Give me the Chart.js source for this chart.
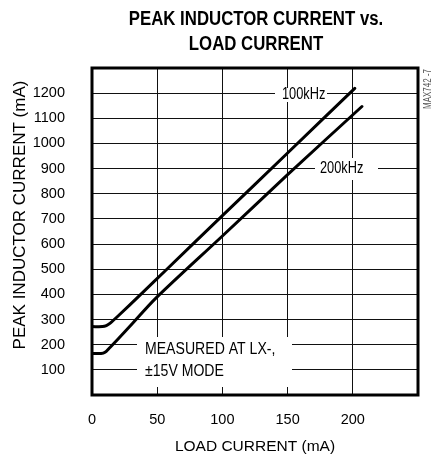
<!DOCTYPE html>
<html>
<head>
<meta charset="utf-8">
<script src="https://cdn.jsdelivr.net/npm/chart.js@4.4.1/dist/chart.umd.min.js"></script>
<style>
  html, body { margin: 0; padding: 0; background: #fff; }
  #wrap { width: 434px; height: 457px; position: relative; }
</style>
</head>
<body>
<div id="wrap"><canvas id="chart" width="434" height="457"></canvas></div>
<script>
// ---------------- Data ----------------
const TITLE_LINES = ["PEAK INDUCTOR CURRENT vs.", "LOAD CURRENT"];
const X_TITLE = "LOAD CURRENT (mA)";
const Y_TITLE = "PEAK INDUCTOR CURRENT (mA)";

const X_RANGE = [0, 250];
const Y_RANGE = [0, 1300];

// load current (mA) / peak inductor current (mA)
const load100k = [0, 8, 11, 14, 20, 37.6, 56.6, 100, 150, 201.5];
const peak100k = [272, 272, 276, 286, 314, 401, 496, 713, 962, 1219];

const load200k = [0, 7, 10, 13, 20, 31, 49, 100, 150, 207];
const peak200k = [165, 165, 170, 185, 223, 284, 385, 632, 876, 1147];

const NOTES = [
  { lines: ["100kHz"], x: 282, y: 95, box: [275, 88, 327, 102] },
  { lines: ["200kHz"], x: 320, y: 169, box: [315, 158, 378, 180] },
  { lines: ["MEASURED AT LX-,", "\u00b115V MODE"], x: 145, y: 350, box: [137, 337, 292, 387] }
];

const FONT = '"Liberation Sans", Arial, sans-serif';

// ---------------- Helpers ----------------
function toPoints(xs, ys) {
  return xs.map((x, i) => ({ x: x, y: ys[i] }));
}

// squeeze text horizontally, the reference uses a narrow face
function narrowText(ctx, text, x, y, squeeze) {
  ctx.save();
  ctx.translate(x, y);
  ctx.scale(squeeze, 1);
  ctx.fillText(text, 0, 0);
  ctx.restore();
}

const decorPlugin = {
  id: "decor",
  beforeDatasetsDraw(chart) {
    const ctx = chart.ctx;
    ctx.save();
    NOTES.forEach(n => {
      const [x0, y0, x1, y1] = n.box;
      ctx.fillStyle = "#fff";
      ctx.fillRect(x0, y0, x1 - x0, y1 - y0);
      ctx.fillStyle = "#000";
      ctx.font = "16px " + FONT;
      ctx.textBaseline = "middle";
      ctx.textAlign = "left";
      n.lines.forEach((t, i) => narrowText(ctx, t, n.x, n.y + i * 22, n.lines.length > 1 ? 0.88 : 0.8));
    });
    ctx.restore();
  },
  afterDatasetsDraw(chart) {
    const ctx = chart.ctx;
    const a = chart.chartArea;
    ctx.save();
    ctx.strokeStyle = "#000";
    ctx.lineWidth = 3;
    ctx.strokeRect(a.left, a.top, a.right - a.left, a.bottom - a.top);

    ctx.fillStyle = "#000";
    ctx.font = "bold 20px " + FONT;
    ctx.textAlign = "center";
    ctx.textBaseline = "alphabetic";
    narrowText(ctx, TITLE_LINES[0], 256, 25, 0.84);
    narrowText(ctx, TITLE_LINES[1], 256, 50, 0.84);

    // y axis title, sits a bit above the plot centre in the original
    ctx.save();
    ctx.translate(20, 215);
    ctx.rotate(-Math.PI / 2);
    ctx.font = "17px " + FONT;
    ctx.textBaseline = "middle";
    ctx.fillText(Y_TITLE, 0, 0);
    ctx.restore();

    ctx.translate(428, 89);
    ctx.rotate(-Math.PI / 2);
    ctx.fillStyle = "#555";
    ctx.font = "10px " + FONT;
    ctx.textBaseline = "middle";
    narrowText(ctx, "MAX742 -7", 0, 0, 0.8);
    ctx.restore();
  }
};

// ---------------- Chart ----------------
new Chart(document.getElementById("chart"), {
  type: "line",
  data: {
    datasets: [
      { label: "100kHz", data: toPoints(load100k, peak100k) },
      { label: "200kHz", data: toPoints(load200k, peak200k) }
    ]
  },
  options: {
    responsive: false,
    animation: false,
    layout: { padding: { top: 68, right: 14, left: 0, bottom: 0 } },
    elements: {
      line: { borderColor: "#000", borderWidth: 3, tension: 0.3, fill: false, borderCapStyle: "round" },
      point: { radius: 0 }
    },
    plugins: {
      legend: { display: false },
      tooltip: { enabled: false }
    },
    scales: {
      x: {
        type: "linear",
        min: X_RANGE[0],
        max: X_RANGE[1],
        afterFit: s => { s.height = 62; },
        border: { display: false },
        grid: { color: "#111", lineWidth: 1, drawTicks: false },
        ticks: {
          stepSize: 50,
          padding: 16,
          color: "#000",
          font: { family: FONT, size: 14.5 },
          callback: v => (v === 250 ? "" : v)
        },
        title: { display: true, text: X_TITLE, color: "#000", font: { family: FONT, size: 15.5 }, padding: { top: 0, bottom: 1 } }
      },
      y: {
        type: "linear",
        min: Y_RANGE[0],
        max: Y_RANGE[1],
        afterFit: s => { s.width = 92; },
        border: { display: false },
        grid: { color: "#111", lineWidth: 1, drawTicks: false },
        ticks: {
          stepSize: 100,
          padding: 27,
          color: "#000",
          font: { family: FONT, size: 14.5 },
          callback: v => (v === 0 || v === 1300 ? "" : v)
        },
        title: { display: false, text: Y_TITLE }
      }
    }
  },
  plugins: [decorPlugin]
});
</script>
</body>
</html>
